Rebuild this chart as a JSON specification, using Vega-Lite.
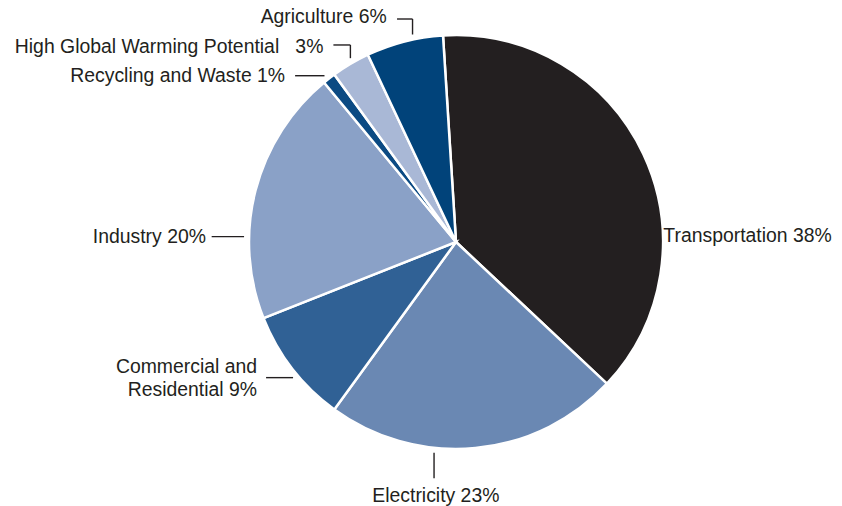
{
  "$schema": "https://vega.github.io/schema/vega-lite/v6.json",
  "width": 772,
  "height": 484,
  "autosize": "none",
  "padding": {"left": 70, "right": 0, "top": 0, "bottom": 22},
  "background": "white",
  "config": {"view": {"stroke": null}},
  "data": {
    "values": [
      {"category": "Transportation", "value": 38, "label": "Transportation 38%"},
      {"category": "Electricity", "value": 23, "label": "Electricity 23%"},
      {"category": "Commercial and Residential", "value": 9, "label": "Commercial and\nResidential 9%"},
      {"category": "Industry", "value": 20, "label": "Industry 20%"},
      {"category": "Recycling and Waste", "value": 1, "label": "Recycling and Waste 1%"},
      {"category": "High Global Warming Potential", "value": 3, "label": "High Global Warming Potential\u00a0\u00a0\u00a03%"},
      {"category": "Agriculture", "value": 6, "label": "Agriculture 6%"}
    ]
  },
  "transform": [
    {"window": [{"op": "row_number", "as": "idx"}]},
    {"stack": "value", "groupby": [], "sort": [{"field": "idx", "order": "ascending"}], "as": ["v0", "v1"]},
    {"calculate": "datum.category==='Transportation'?0.684:datum.category==='Electricity'?0.637:datum.category==='Commercial and Residential'?0.439:datum.category==='Industry'?0.32:datum.category==='Recycling and Waste'?0.35:datum.category==='High Global Warming Potential'?0.567:0.619", "as": "f"},
    {"calculate": "datum.category==='Electricity'?-25.4:datum.category==='High Global Warming Potential'?13.2:datum.category==='Agriculture'?15.5:0", "as": "vl"},
    {"calculate": "datum.category==='Commercial and Residential'?27:datum.category==='Industry'?32.4:datum.category==='Recycling and Waste'?29.4:datum.category==='High Global Warming Potential'?17:datum.category==='Agriculture'?15.5:0", "as": "hl"},
    {"calculate": "datum.category==='Transportation'?4.7:datum.category==='Electricity'?-1.8:datum.category==='Commercial and Residential'?9:datum.category==='Industry'?5.7:datum.category==='Recycling and Waste'?10:datum.category==='High Global Warming Potential'?10:10.3", "as": "tg"},
    {"calculate": "datum.category==='Transportation'?0:datum.category==='Electricity'?23.4:datum.category==='Commercial and Residential'?-4.5:datum.category==='Industry'?6.7:datum.category==='Recycling and Waste'?5.9:datum.category==='High Global Warming Potential'?8.3:4.3", "as": "tb"},
    {"calculate": "-0.0628319 + 2*PI*(datum.v0 + datum.f*(datum.v1 - datum.v0))/100", "as": "a"},
    {"calculate": "212*sin(datum.a)", "as": "sx"},
    {"calculate": "212*cos(datum.a)", "as": "sy"},
    {"calculate": "datum.sy + datum.vl", "as": "ey"},
    {"calculate": "datum.sx - datum.hl", "as": "ex"},
    {"calculate": "datum.ex - datum.tg", "as": "tx"},
    {"calculate": "datum.ey - datum.tb", "as": "ty"}
  ],
  "layer": [
    {
      "mark": {"type": "arc", "outerRadius": 207, "stroke": "white", "strokeWidth": 2.5},
      "encoding": {
        "theta": {"field": "v0", "type": "quantitative", "stack": null, "scale": {"domain": [0, 100], "range": [-0.0628319, 6.2203535]}},
        "theta2": {"field": "v1"},
        "color": {
          "field": "category",
          "type": "nominal",
          "legend": null,
          "scale": {
            "domain": ["Transportation", "Electricity", "Commercial and Residential", "Industry", "Recycling and Waste", "High Global Warming Potential", "Agriculture"],
            "range": ["#231f20", "#6a88b3", "#306195", "#8aa1c7", "#0b4a83", "#a9b8d6", "#01437a"]
          }
        }
      }
    },
    {
      "transform": [{"filter": {"field": "category", "oneOf": ["Electricity", "High Global Warming Potential", "Agriculture"]}}],
      "mark": {"type": "rule", "color": "#231f20", "strokeWidth": 1.4},
      "encoding": {
        "x": {"field": "sx", "type": "quantitative", "axis": null, "scale": {"domain": [-386, 386], "nice": false, "zero": false}},
        "y": {"field": "sy", "type": "quantitative", "axis": null, "scale": {"domain": [-242, 242], "nice": false, "zero": false}},
        "y2": {"field": "ey"}
      }
    },
    {
      "transform": [{"filter": {"field": "category", "oneOf": ["Commercial and Residential", "Industry", "Recycling and Waste", "High Global Warming Potential", "Agriculture"]}}],
      "mark": {"type": "rule", "color": "#231f20", "strokeWidth": 1.4},
      "encoding": {
        "x": {"field": "sx", "type": "quantitative", "axis": null, "scale": {"domain": [-386, 386], "nice": false, "zero": false}},
        "x2": {"field": "ex"},
        "y": {"field": "ey", "type": "quantitative", "axis": null, "scale": {"domain": [-242, 242], "nice": false, "zero": false}}
      }
    },
    {
      "transform": [{"filter": {"field": "category", "oneOf": ["Commercial and Residential", "Industry", "Recycling and Waste", "High Global Warming Potential", "Agriculture"]}}],
      "mark": {"type": "text", "align": "right", "baseline": "alphabetic", "font": "Liberation Sans", "fontSize": 19.4, "color": "#231f20", "lineBreak": "\n", "lineHeight": 23.3},
      "encoding": {
        "x": {"field": "tx", "type": "quantitative", "axis": null, "scale": {"domain": [-386, 386], "nice": false, "zero": false}},
        "y": {"field": "ty", "type": "quantitative", "axis": null, "scale": {"domain": [-242, 242], "nice": false, "zero": false}},
        "text": {"field": "label"}
      }
    },
    {
      "transform": [{"filter": {"field": "category", "equal": "Electricity"}}],
      "mark": {"type": "text", "align": "center", "baseline": "alphabetic", "font": "Liberation Sans", "fontSize": 19.4, "color": "#231f20"},
      "encoding": {
        "x": {"field": "tx", "type": "quantitative", "axis": null, "scale": {"domain": [-386, 386], "nice": false, "zero": false}},
        "y": {"field": "ty", "type": "quantitative", "axis": null, "scale": {"domain": [-242, 242], "nice": false, "zero": false}},
        "text": {"field": "label"}
      }
    },
    {
      "transform": [{"filter": {"field": "category", "equal": "Transportation"}}],
      "mark": {"type": "text", "align": "left", "baseline": "alphabetic", "font": "Liberation Sans", "fontSize": 19.4, "color": "#231f20"},
      "encoding": {
        "x": {"field": "tx", "type": "quantitative", "axis": null, "scale": {"domain": [-386, 386], "nice": false, "zero": false}},
        "y": {"field": "ty", "type": "quantitative", "axis": null, "scale": {"domain": [-242, 242], "nice": false, "zero": false}},
        "text": {"field": "label"}
      }
    }
  ]
}
